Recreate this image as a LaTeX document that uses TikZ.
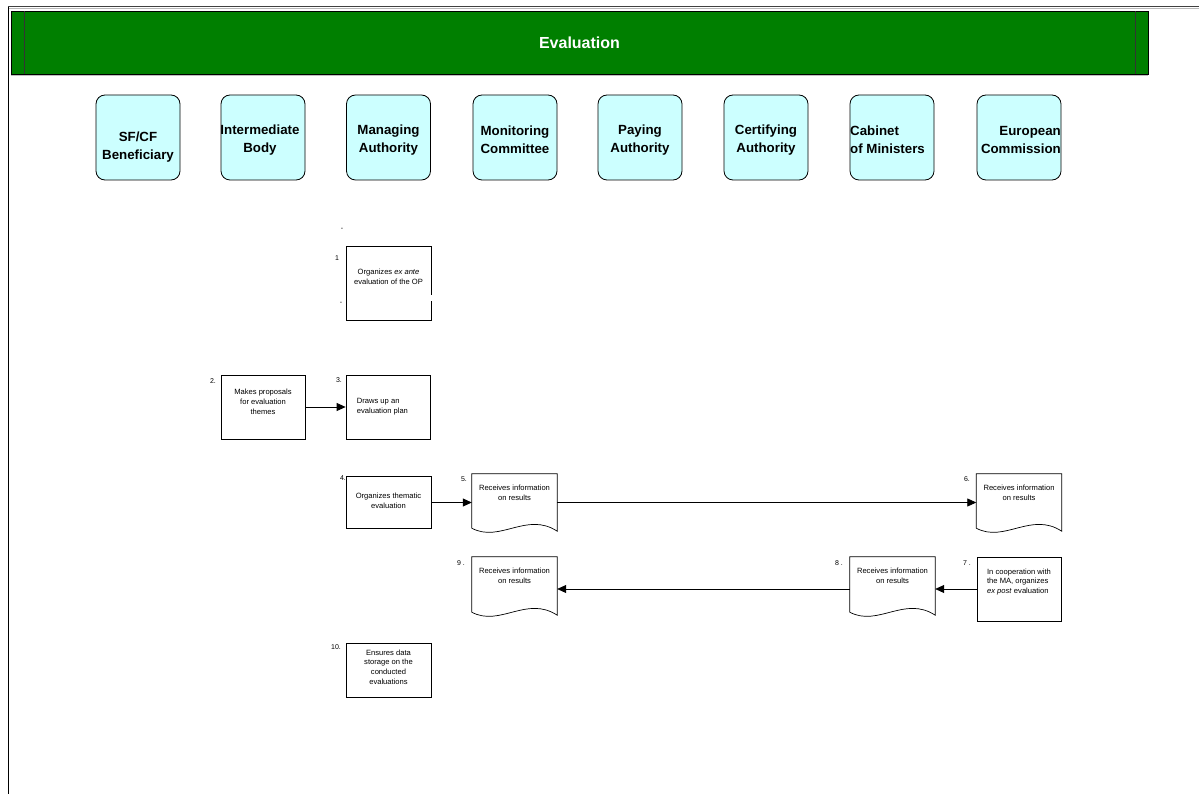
\documentclass[tikz,border=0pt]{standalone}
\usepackage{fontspec}
\setmainfont{Liberation Sans}
\usetikzlibrary{arrows.meta}
\definecolor{bannergreen}{HTML}{007F00}
\definecolor{headcyan}{HTML}{CCFFFF}
\newcommand\docshape[1]{%
  \draw[line width=0.7pt, fill=white] (#1.south east) -- (#1.north east) -- (#1.north west) -- ([yshift=3pt]#1.south west)
    .. controls ([xshift=28pt,yshift=-12pt]#1.south west) and ([xshift=55pt,yshift=20pt]#1.south west) .. (#1.south east) -- cycle;}
\begin{document}
\begin{tikzpicture}[x=1pt,y=-1pt,
  head/.style={draw, line width=0.8pt, rounded corners=9pt, fill=headcyan, minimum width=84pt, minimum height=85pt, inner sep=0pt},
  headtxt/.style={font=\fontsize{13.3}{18}\selectfont\bfseries, align=center, inner sep=0pt},
  proc/.style={draw, line width=0.7pt, minimum width=85pt, inner sep=0pt},
  docnode/.style={minimum width=85pt, inner sep=0pt},
  txt/.style={font=\fontsize{7.6}{9.8}\selectfont, align=center, inner sep=0pt},
  num/.style={font=\fontsize{7}{8}\selectfont, inner sep=0pt},
  conn/.style={line width=0.8pt, -{Triangle[length=9pt,width=8pt]}}
]
\useasboundingbox (0,0) rectangle (1199,794);
% frame
\draw[gray!55, line width=1.5pt] (8,8.5) -- (1199,8.5);
\draw[black!75, line width=1pt] (8,7) -- (1199,7);
\draw[black, line width=1pt] (8,7) -- (8,794);
% banner
\node[draw=black, line width=0.8pt, fill=bannergreen, minimum width=1137pt, minimum height=63pt, inner sep=0pt,
      text=white, font=\fontsize{16}{19}\selectfont\bfseries] (banner) at (579.5,42.5) {Evaluation};
\draw[gray!50, line width=1.5pt] (11,75.5) -- (1148,75.5);
\draw[black!80, line width=0.8pt] (24,11) -- (24,74);
\draw[black!80, line width=0.8pt] (1135,11) -- (1135,74);
% column headers
\node[head] (h1) at (138,137.5) {};
\node[head] (h2) at (263,137.5) {};
\node[head] (h3) at (388.5,137.5) {};
\node[head] (h4) at (515,137.5) {};
\node[head] (h5) at (640,137.5) {};
\node[head] (h6) at (766,137.5) {};
\node[head] (h7) at (892,137.5) {};
\node[head] (h8) at (1019,137.5) {};
\node[headtxt] (ht1) at (138,147) {SF/CF\\Beneficiary};
\node[headtxt] (ht2) at (260,140) {Intermediate\\Body};
\node[headtxt] (ht3) at (388.5,140) {Managing\\Authority};
\node[headtxt] (ht4) at (515,140) {Monitoring\\Committee};
\node[headtxt] (ht5) at (640,140) {Paying\\Authority};
\node[headtxt] (ht6) at (766,140) {Certifying\\Authority};
\node[headtxt, align=left, anchor=west] (ht7) at (850,140) {Cabinet\\of Ministers};
\node[headtxt, align=right, anchor=east] (ht8) at (1061,140) {European\\Commission};
% step 1
\node[proc, minimum height=74pt] (p1) at (388.5,283) {};
\fill[white] (348,295) rectangle (434,301);
\node[txt] (t1) at ([yshift=6pt]p1.center) {Organizes \textit{ex ante}\\evaluation of the OP};
\node[num] (n0) at (342,229) {-};
\node[num] (n1) at (337,258) {1};
\node[num] (n1b) at (341,303) {-};
% steps 2,3
\node[proc, minimum width=84pt, minimum height=64pt] (p2) at (263,407) {};
\node[txt] (t2) at ([yshift=5pt]p2.center) {Makes proposals\\for evaluation\\themes};
\node[proc, minimum width=84pt, minimum height=64pt] (p3) at (388,407) {};
\node[txt, align=left, anchor=west] (t3) at ([xshift=11pt]p3.west) {Draws up an\\evaluation plan};
\node[num] (n2) at (213,381) {2.};
\node[num] (n3) at (339,380) {3.};
\draw[conn] (p2.east) -- (p3.west);
% steps 4,5,6
\node[proc, minimum height=52pt] (p4) at (388.5,502.5) {};
\node[txt] (t4) at ([yshift=2pt]p4.center) {Organizes thematic\\evaluation};
\node[num] (n4) at (343,478) {4.};
\node[docnode, minimum height=57pt] (d5) at (514.5,502.5) {};
\docshape{d5}
\node[txt] (t5) at ([yshift=9.5pt]d5.center) {Receives information\\on results};
\node[num] (n5) at (464,479) {5.};
\node[docnode, minimum height=57pt] (d6) at (1019,502.5) {};
\docshape{d6}
\node[txt] (t6) at ([yshift=9.5pt]d6.center) {Receives information\\on results};
\node[num] (n6) at (967,479) {6.};
\draw[conn] (p4.east) -- (p4.east -| d5.west);
\draw[conn] (d5.east) -- (d6.west);
% steps 7,8,9
\node[proc, minimum width=84pt, minimum height=64pt] (p7) at (1019,589) {};
\node[txt, align=left] (t7) at ([yshift=7pt]p7.center) {In cooperation with\\the MA, organizes\\\textit{ex post} evaluation};
\node[num] (n7) at (967,563) {7 .};
\node[docnode, minimum height=58pt] (d8) at (892.5,586) {};
\docshape{d8}
\node[txt] (t8) at ([yshift=10pt]d8.center) {Receives information\\on results};
\node[num] (n8) at (839,563) {8 .};
\node[docnode, minimum height=58pt] (d9) at (514.5,586) {};
\docshape{d9}
\node[txt] (t9) at ([yshift=10pt]d9.center) {Receives information\\on results};
\node[num] (n9) at (461,563) {9 .};
\draw[conn] (p7.west) -- (p7.west -| d8.east);
\draw[conn] (p7.west -| d8.west) -- (p7.west -| d9.east);
% step 10
\node[proc, minimum height=54pt] (p10) at (388.5,670) {};
\node[txt] (t10) at ([yshift=3pt]p10.center) {Ensures data\\storage on the\\conducted\\evaluations};
\node[num] (n10) at (336,647) {10.};
\end{tikzpicture}
\end{document}
